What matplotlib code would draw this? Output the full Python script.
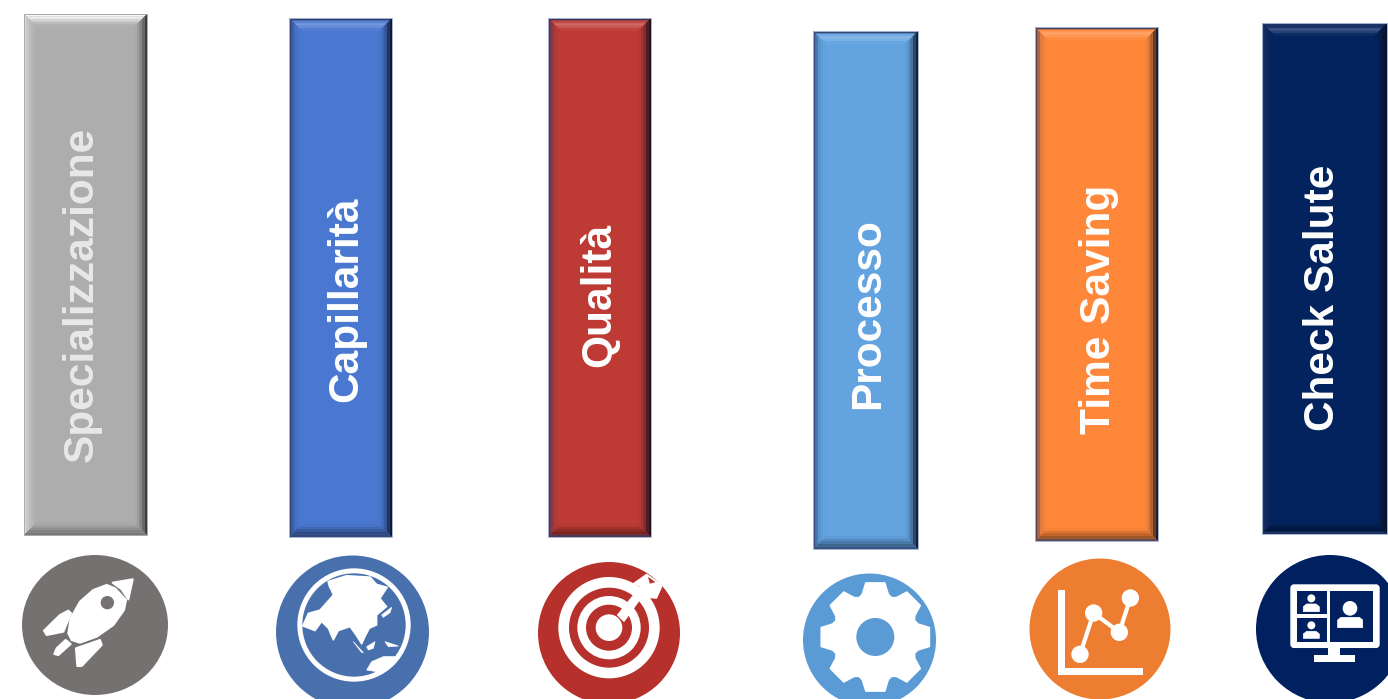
import matplotlib
matplotlib.use('Agg')
import matplotlib.pyplot as plt
import numpy as np
from matplotlib.colors import to_rgb
from matplotlib.patches import Circle, Ellipse, FancyBboxPatch, Polygon, Rectangle

# Column labels and extents (top/bottom in pixels)
labels = ['Specializzazione', 'Capillarità', 'Qualità', 'Processo', 'Time Saving', 'Check Salute']
bar_top = [14, 18, 18, 31, 27, 23]
bar_bottom = [535, 537, 537, 549, 541, 534]

bar_left = [24, 289, 548, 813, 1035, 1262]
bar_right = [147, 392, 651, 918, 1158, 1387]
bar_colors = ['#adadad', '#4a78d0', '#be3a34', '#62a3e0', '#ff8739', '#03235f']
icon_colors = ['#767171', '#4870ac', '#b7312c', '#5b9bd5', '#ed7d31', '#002060']
text_colors = ['#e8e8e8', 'white', 'white', 'white', 'white', 'white']
text_x = [82, 346, 599, 868, 1099, 1323]
text_y = [294, 299.5, 295, 314, 309.5, 298]
icon_x = [95, 352.5, 609, 869.5, 1100, 1330]
icon_y = [625, 632, 633, 640, 629, 629]
icon_w = [146, 153, 142, 133, 141, 148]
icon_h = [140, 153, 142, 133, 141, 148]

# bevel tints from the outer edge inwards, (towards colour, amount)
SLATE = '#2a3560'
INK = '#0c1020'
BEVEL_COLOURED = {
    'top': [(SLATE, 0.85), ('white', 0.08), ('white', 0.24), ('white', 0.14), ('white', 0.04)],
    'left': [(SLATE, 0.8), (SLATE, 0.4), (SLATE, 0.15), (SLATE, 0.06), (SLATE, 0.02)],
    'right': [(INK, 0.9), (INK, 0.65), (INK, 0.35), (INK, 0.15), (INK, 0.04)],
    'bottom': [(SLATE, 0.75), ('black', 0.38), ('black', 0.28), ('black', 0.14), ('black', 0.04)],
}
BEVEL_GREY = {
    'top': [('white', 0.9), ('white', 0.75), ('white', 0.5), ('white', 0.2), ('white', 0.05)],
    'left': [('white', 0.55), ('white', 0.3), ('white', 0.2), ('white', 0.1), ('white', 0.03)],
    'right': [('#222222', 0.8), ('#222222', 0.5), ('#222222', 0.3), ('#222222', 0.12), ('#222222', 0.03)],
    'bottom': [('#555555', 0.6), ('#555555', 0.5), ('#555555', 0.35), ('#555555', 0.15), ('#555555', 0.05)],
}


def blend(color, other, amount):
    c = np.array(to_rgb(color))
    return tuple(c + (np.array(to_rgb(other)) - c) * amount)


def draw_bevel(ax, left, right, top, bottom, color):
    # Four mitred strips round the face, stepped to look like a soft gradient
    grey = color == '#adadad'
    bevel = BEVEL_GREY if grey else BEVEL_COLOURED
    width = 2.6
    for side, tints in bevel.items():
        for step, (tint, amount) in enumerate(tints):
            a = step * width
            b = (step + 1) * width
            l0, r0, t0, b0 = left + a, right - a, top + a, bottom - a
            l1, r1, t1, b1 = left + b, right - b, top + b, bottom - b
            pts = {
                'top': [(l0, t0), (r0, t0), (r1, t1), (l1, t1)],
                'bottom': [(l0, b0), (r0, b0), (r1, b1), (l1, b1)],
                'left': [(l0, t0), (l0, b0), (l1, b1), (l1, t1)],
                'right': [(r0, t0), (r0, b0), (r1, b1), (r1, t1)],
            }[side]
            ax.add_patch(Polygon(pts, closed=True, fc=blend(color, tint, amount), ec='none', zorder=3))
    edge = '#a8a8a8' if grey else '#a5b4d2'
    ax.add_patch(Rectangle((left, top), right - left, bottom - top, fc='none', ec=edge, lw=0.7, zorder=4))


def zoom_pts(pts, x0, y0):
    # shapes were traced on 3x crops, so bring them back to picture pixels
    return [(x0 + x / 3, y0 + y / 3) for x, y in pts]


def white_shape(ax, pts, x0, y0, color='white', lw=1.5, zorder=6):
    ax.add_patch(Polygon(zoom_pts(pts, x0, y0), closed=True, fc=color, ec=color, lw=lw,
                         joinstyle='round', zorder=zorder))


def disc(ax, x, y, r, x0, y0, color='white'):
    ax.add_patch(Circle((x0 + x / 3, y0 + y / 3), r / 3, fc=color, ec='none', zorder=6))


def draw_rocket(ax, color):
    x0, y0 = 0, 500
    white_shape(ax, [(320, 255), (345, 265), (378, 300), (372, 330), (340, 375), (290, 410), (240, 428),
                     (215, 420), (205, 400), (212, 355), (240, 305), (280, 270)], x0, y0)
    white_shape(ax, [(338, 248), (398, 238), (385, 298), (365, 268)], x0, y0)
    white_shape(ax, [(205, 332), (213, 340), (190, 395), (140, 405), (132, 392), (180, 345)], x0, y0)
    white_shape(ax, [(197, 420), (212, 432), (175, 465), (163, 462), (170, 445)], x0, y0)
    white_shape(ax, [(300, 420), (305, 435), (245, 498), (232, 498), (228, 445)], x0, y0)
    disc(ax, 322, 308, 20, x0, y0, color)


def draw_globe(ax, color):
    x0, y0 = 0, 500
    disc(ax, 1062, 375, 170, x0, y0)
    disc(ax, 1062, 375, 155, x0, y0, color)
    white_shape(ax, [(985, 245), (1040, 228), (1110, 232), (1130, 255), (1085, 250), (1040, 255), (990, 262)], x0, y0)
    white_shape(ax, [(908, 378), (945, 392), (965, 365), (985, 385), (1000, 420), (1015, 392), (1050, 380),
                     (1068, 405), (1085, 432), (1095, 410), (1108, 385), (1130, 375), (1130, 345), (1160, 320),
                     (1140, 295), (1162, 262), (1120, 250), (1040, 258), (990, 262), (1000, 285), (960, 330),
                     (925, 340)], x0, y0, lw=1)
    white_shape(ax, [(1145, 345), (1175, 322), (1170, 338), (1150, 352)], x0, y0, lw=0.5)
    white_shape(ax, [(1100, 440), (1125, 425), (1120, 445), (1105, 450)], x0, y0, lw=0.5)
    white_shape(ax, [(1060, 425), (1090, 458), (1084, 456)], x0, y0, lw=0.5)
    white_shape(ax, [(1155, 425), (1195, 438), (1165, 440)], x0, y0, lw=0.5)
    white_shape(ax, [(1100, 510), (1115, 485), (1150, 470), (1185, 470), (1170, 495), (1130, 515)], x0, y0, lw=0.5)


def draw_target(ax, color):
    x0, y0 = 500, 520
    for r, c in [(152, 'white'), (120, color), (95, 'white'), (69, color), (40, 'white')]:
        disc(ax, 327, 323, r, x0, y0, c)
    # thick arrow running out past the outer ring, notched on its flight
    white_shape(ax, [(352, 285), (420, 200), (400, 190), (440, 162), (488, 195), (470, 235), (425, 232), (372, 305)],
                x0, y0, lw=0.5, zorder=7)
    white_shape(ax, [(445, 172), (465, 186), (450, 190)], x0, y0, color=color, lw=0.3, zorder=7)


def draw_gear(ax, color, cx, cy):
    # eight wide teeth with shallow rounded valleys
    angles = np.deg2rad(np.arange(0, 360, 45))
    pts = []
    for a in angles:
        for da, r in [(-17, 134), (-10, 165), (10, 165), (17, 134), (22.5, 128)]:
            t = a + np.deg2rad(da)
            pts.append((cx + r / 3 * np.cos(t), cy + r / 3 * np.sin(t)))
    ax.add_patch(Polygon(pts, closed=True, fc='white', ec='white', lw=1, joinstyle='round', zorder=6))
    ax.add_patch(Circle((cx, cy), 19, fc=color, ec='none', zorder=7))


def draw_line_chart(ax, color):
    x0, y0 = 1000, 520
    white_shape(ax, [(173, 209), (195, 209), (195, 443), (430, 443), (430, 465), (173, 465)], x0, y0, lw=0)
    pts = zoom_pts([(240, 403), (281, 279), (358, 337), (391, 234)], x0, y0)
    ax.plot(*zip(*pts), color='white', lw=3, zorder=6, solid_capstyle='round')
    for x, y in [(240, 403), (281, 279), (358, 337), (391, 234)]:
        disc(ax, x, y, 26, x0, y0)


def draw_monitor(ax, color):
    x0, y0 = 1000, 520

    def box(x1, y1, x2, y2, c='white'):
        ax.add_patch(Rectangle((x0 + x1 / 3, y0 + y1 / 3), (x2 - x1) / 3, (y2 - y1) / 3, fc=c, ec='none', zorder=6))

    ax.add_patch(FancyBboxPatch((x0 + 873 / 3, y0 + 195 / 3), 264 / 3, 187 / 3, boxstyle='round,pad=0,rounding_size=3',
                                fc='white', ec='white', lw=1, zorder=6))
    box(890, 213, 980, 282, color)
    box(890, 293, 980, 365, color)
    box(990, 213, 1118, 365, color)
    box(985, 385, 1020, 405)
    box(943, 405, 1064, 427)
    for hx, hy, hr, bx1, by1, bx2, by2 in [(934, 235, 12, 910, 252, 958, 275), (934, 316, 12, 910, 334, 958, 355),
                                           (1050, 265, 22, 1013, 292, 1088, 323)]:
        disc(ax, hx, hy, hr, x0, y0)
        white_shape(ax, [(bx1, by2), (bx1, by1 + 8), (bx1 + 10, by1), (bx2 - 10, by1), (bx2, by1 + 8), (bx2, by2)],
                    x0, y0, lw=0.5)


def main():
    plt.rcParams['font.family'] = ['Liberation Sans', 'DejaVu Sans']

    fig = plt.figure(figsize=(13.88, 6.99), dpi=100)
    ax = fig.add_axes([0, 0, 1, 1])
    ax.set_xlim(0, 1388)
    ax.set_ylim(699, 0)
    ax.axis('off')

    for i, label in enumerate(labels):
        left, right = bar_left[i], bar_right[i]
        ax.bar((left + right) / 2, bar_bottom[i] - bar_top[i], width=right - left, bottom=bar_top[i],
               color=bar_colors[i], zorder=2)
        draw_bevel(ax, left, right, bar_top[i], bar_bottom[i], bar_colors[i])
        ax.text(text_x[i], text_y[i], label, rotation=90, ha='center', va='center', color=text_colors[i],
                fontsize=30.5, fontweight='bold', zorder=8)
        ax.add_patch(Ellipse((icon_x[i], icon_y[i]), icon_w[i], icon_h[i], fc=icon_colors[i], ec='none', zorder=5))

    draw_rocket(ax, icon_colors[0])
    draw_globe(ax, icon_colors[1])
    draw_target(ax, icon_colors[2])
    draw_gear(ax, icon_colors[3], 875.3, 637)
    draw_line_chart(ax, icon_colors[4])
    draw_monitor(ax, icon_colors[5])

    fig.savefig('out.png', dpi=100)


if __name__ == "__main__":
    main()
